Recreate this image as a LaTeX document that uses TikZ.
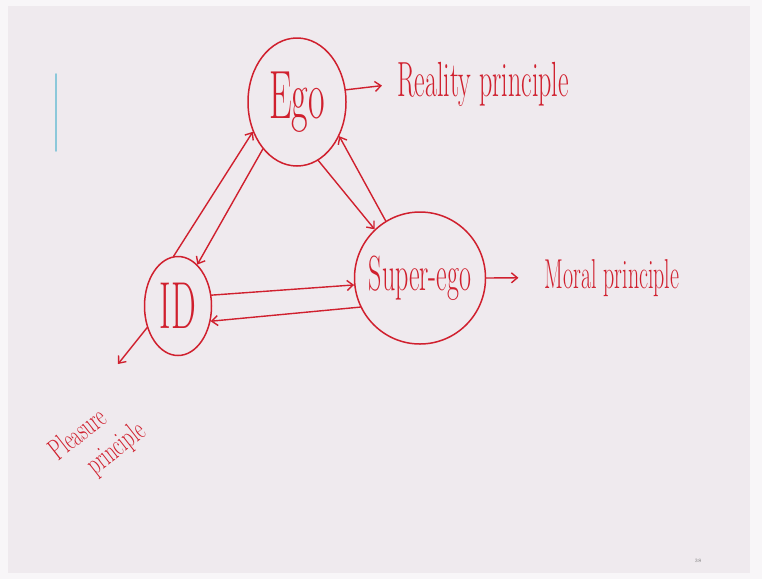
\documentclass[tikz,border=0pt]{standalone}
\usetikzlibrary{shapes.geometric,arrows.meta}
\definecolor{inkred}{RGB}{208,32,46}
\definecolor{slidebg}{RGB}{239,234,238}
\definecolor{pagebg}{RGB}{248,246,248}
\definecolor{markblue}{RGB}{140,200,218}
\newcommand{\handtext}[1]{\makebox[0pt]{\scalebox{1}[1.9]{#1}}}
\tikzset{
  psyche/.style={draw=inkred, ellipse, line width=1.5pt, inner sep=0pt, text=inkred},
  ink/.style={text=inkred, inner sep=0pt},
  drive/.style={draw=inkred, line width=1.4pt, -{Straight Barb[length=6pt,width=10pt,line width=1.4pt]}}
}
\begin{document}
\begin{tikzpicture}[x=1pt, y=-1pt, line join=round, line cap=round]
  \useasboundingbox (0,0) rectangle (762,579);
  \fill[pagebg] (0,0) rectangle (762,579);
  \fill[slidebg] (8,6) rectangle (750,573);
  \draw[markblue, line width=1.6pt] (56,74) -- (56,151);

  % the three parts of the psyche
  \node[psyche, minimum width=98pt, minimum height=128pt, font=\fontsize{36}{36}\selectfont]
    (ego) at (297,102) {\handtext{Ego}};
  \node[psyche, minimum width=131pt, minimum height=132pt, font=\fontsize{26}{26}\selectfont]
    (superego) at (420,278) {\handtext{Super-ego}};
  \node[psyche, minimum width=67pt, minimum height=99pt, font=\fontsize{35}{35}\selectfont]
    (id) at (178,306) {\handtext{ID}};

  % principles
  \node[ink, anchor=base, font=\fontsize{26}{26}\selectfont] (reality) at (483,96) {\scalebox{1}[1.9]{Reality principle}};
  \node[ink, anchor=base, font=\fontsize{22}{22}\selectfont] (moral) at (612,288) {\scalebox{1}[1.9]{Moral principle}};
  \node[ink, rotate=38, align=left, font=\fontsize{19}{34}\selectfont] (pleasure) at (98,442)
    {\scalebox{1}[1.6]{Pleasure}\\\hspace*{1.1em}\scalebox{1}[1.6]{principle}};
  \coordinate (pleasuretip) at (118,364);

  \draw[drive, shorten >=15pt] (ego.14) -- (reality.west);
  \draw[drive, shorten >=26pt] (superego.east) -- (moral.west);
  \draw[drive] (id.215) -- (pleasuretip);

  % interactions
  \draw[drive] (id.95) -- (ego.214);
  \draw[drive] (ego.234) -- (id.65);
  \draw[drive] (ego.290) -- (superego.133);
  \draw[drive] (superego.121) -- (ego.321);
  \draw[drive] (id.18) -- (superego.186);
  \draw[drive] (superego.206) -- (id.335);

  \node[text=black!55, font=\fontsize{5}{5}\selectfont] (page) at (698,561) {38};
\end{tikzpicture}
\end{document}
